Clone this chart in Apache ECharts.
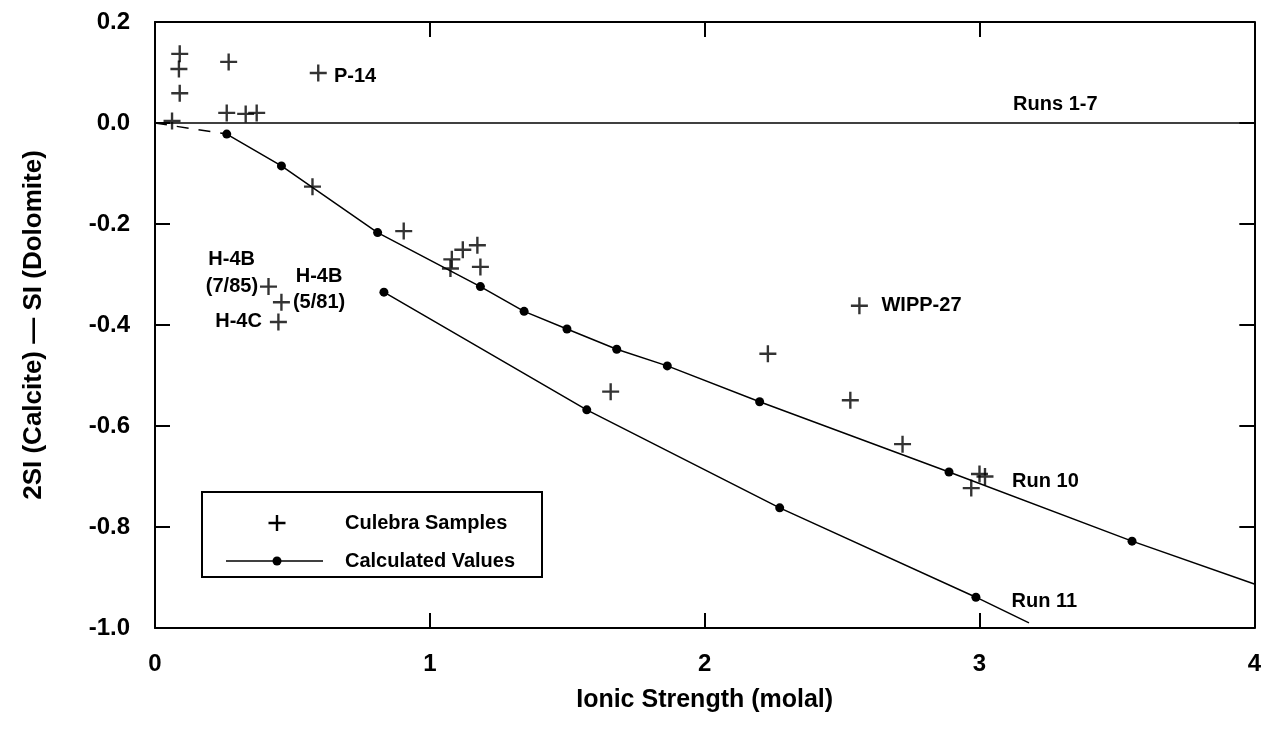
<!DOCTYPE html>
<html>
<head>
<meta charset="utf-8">
<script src="https://cdn.jsdelivr.net/npm/echarts@6/dist/echarts.min.js"></script>
<style>
html,body{margin:0;padding:0;background:#fff;}
#chart{width:1264px;height:740px;}
</style>
</head>
<body>
<div id="chart"></div>
<script>
// ---- data ----
var xTicks = [0, 1, 2, 3, 4];
var yTicks = [0.2, 0.0, -0.2, -0.4, -0.6, -0.8, -1.0];

var culebraSamples = [
  [0.09, 0.137], [0.087, 0.107], [0.09, 0.059], [0.062, 0.004],
  [0.268, 0.121], [0.594, 0.099],
  [0.261, 0.020], [0.330, 0.018], [0.370, 0.020],
  [0.573, -0.126], [0.905, -0.214],
  [1.080, -0.270], [1.075, -0.288], [1.120, -0.251], [1.173, -0.242], [1.184, -0.285],
  [0.413, -0.324], [0.460, -0.355], [0.449, -0.394],
  [1.658, -0.532], [2.230, -0.457], [2.530, -0.549], [2.563, -0.362],
  [2.720, -0.636], [3.000, -0.695], [3.020, -0.700], [2.970, -0.723]
];

var run10Dashed = [[0.0, 0.0], [0.261, -0.022]];
var run10 = [
  [0.261, -0.022], [0.460, -0.085], [0.810, -0.217], [1.184, -0.324],
  [1.343, -0.373], [1.499, -0.408], [1.680, -0.448], [1.864, -0.481],
  [2.200, -0.552], [2.889, -0.691], [3.555, -0.828]
];
var run10End = [[3.555, -0.828], [4.0, -0.913]];

var run11 = [[0.833, -0.335], [1.571, -0.568], [2.273, -0.762], [2.987, -0.939]];
var run11End = [[2.987, -0.939], [3.18, -0.990]];

var runs1to7 = [[0, 0], [4, 0]];

var annotations = [
  {text: 'P-14', x: 0.728, y: 0.093},
  {text: 'Runs 1-7', x: 3.276, y: 0.036},
  {text: 'H-4B', x: 0.279, y: -0.271},
  {text: '(7/85)', x: 0.280, y: -0.323},
  {text: 'H-4B', x: 0.597, y: -0.303},
  {text: '(5/81)', x: 0.597, y: -0.356},
  {text: 'H-4C', x: 0.304, y: -0.394},
  {text: 'WIPP-27', x: 2.789, y: -0.362},
  {text: 'Run 10', x: 3.240, y: -0.709},
  {text: 'Run 11', x: 3.236, y: -0.948}
];

var legendLabels = ['Culebra Samples', 'Calculated Values'];

// ---- chart ----
var FONT = '"Liberation Sans", Arial, Helvetica, sans-serif';
var PLUS = 'path://M8.6,0H11.4V8.6H20V11.4H11.4V20H8.6V11.4H0V8.6H8.6Z';

var chart = echarts.init(document.getElementById('chart'), null, {renderer: 'canvas'});

function axisCommon() {
  return {
    axisLine: {show: true, onZero: false, lineStyle: {color: '#000', width: 2}},
    axisTick: {show: true, inside: true, length: 15, lineStyle: {color: '#000', width: 2}},
    splitLine: {show: false}
  };
}

var option = {
  backgroundColor: '#fff',
  animation: false,
  grid: {left: 155, top: 22, right: 4, bottom: 112, containLabel: false},
  xAxis: [
    Object.assign(axisCommon(), {
      type: 'value', min: 0, max: 4, interval: 1, position: 'bottom',
      name: 'Ionic Strength (molal)', nameLocation: 'middle', nameGap: 60,
      nameTextStyle: {fontFamily: FONT, fontWeight: 'bold', fontSize: 25, color: '#000'},
      axisLabel: {margin: 24, fontFamily: FONT, fontWeight: 'bold', fontSize: 24, color: '#000',
        formatter: function (v) { return xTicks.indexOf(v) >= 0 ? String(v) : ''; }}
    }),
    Object.assign(axisCommon(), {
      type: 'value', min: 0, max: 4, interval: 1, position: 'top', axisLabel: {show: false}
    })
  ],
  yAxis: [
    Object.assign(axisCommon(), {
      type: 'value', min: -1.0, max: 0.2, interval: 0.2, position: 'left',
      name: '2SI (Calcite) \u2014 SI (Dolomite)', nameLocation: 'middle', nameGap: 108,
      nameTextStyle: {fontFamily: FONT, fontWeight: 'bold', fontSize: 26, color: '#000'},
      axisLabel: {margin: 25, fontFamily: FONT, fontWeight: 'bold', fontSize: 24, color: '#000',
        formatter: function (v) { return v.toFixed(1); }}
    }),
    Object.assign(axisCommon(), {
      type: 'value', min: -1.0, max: 0.2, interval: 0.2, position: 'right', axisLabel: {show: false}
    })
  ],
  series: [
    {type: 'line', name: 'Runs 1-7', data: runs1to7, showSymbol: false, symbol: 'none',
      lineStyle: {color: '#000', width: 1.5}, z: 2},
    {type: 'line', name: 'run10dash', data: run10Dashed, symbol: 'none',
      lineStyle: {color: '#000', width: 1.5, type: [12, 10]}, z: 3},
    {type: 'line', name: 'Calculated Values', data: run10, symbol: 'circle', symbolSize: 9,
      itemStyle: {color: '#000'}, lineStyle: {color: '#000', width: 1.5}, z: 4},
    {type: 'line', name: 'run10end', data: run10End, symbol: 'none',
      lineStyle: {color: '#000', width: 1.5}, z: 3},
    {type: 'line', name: 'run11', data: run11, symbol: 'circle', symbolSize: 9,
      itemStyle: {color: '#000'}, lineStyle: {color: '#000', width: 1.5}, z: 4},
    {type: 'line', name: 'run11end', data: run11End, symbol: 'none',
      lineStyle: {color: '#000', width: 1.5}, z: 3},
    {type: 'scatter', name: 'Culebra Samples', data: culebraSamples, symbol: PLUS, symbolSize: 17,
      itemStyle: {color: '#000'}, z: 5}
  ]
};
chart.setOption(option);

// annotation texts anchored by data coordinates, plus a boxed legend
var graphics = [];
annotations.forEach(function (a) {
  var p = chart.convertToPixel({gridIndex: 0}, [a.x, a.y]);
  graphics.push({
    type: 'text', x: p[0], y: p[1], z: 10,
    style: {text: a.text, fontFamily: FONT, fontWeight: 'bold', fontSize: 20, fill: '#000',
      textAlign: 'center', textVerticalAlign: 'middle'}
  });
});

graphics.push({type: 'rect', shape: {x: 202, y: 492, width: 340, height: 85}, z: 10,
  style: {fill: '#fff', stroke: '#000', lineWidth: 2}});
graphics.push({type: 'polygon', z: 11,
  shape: {points: [[275.8, 515], [278.2, 515], [278.2, 521.8], [285.5, 521.8], [285.5, 524.2], [278.2, 524.2],
                   [278.2, 531], [275.8, 531], [275.8, 524.2], [268.5, 524.2], [268.5, 521.8], [275.8, 521.8]]},
  style: {fill: '#000'}});
graphics.push({type: 'line', z: 11, shape: {x1: 226, y1: 561, x2: 323, y2: 561},
  style: {stroke: '#000', lineWidth: 1.5}});
graphics.push({type: 'circle', z: 12, shape: {cx: 277, cy: 561, r: 4.5}, style: {fill: '#000'}});
graphics.push({type: 'text', z: 11, x: 345, y: 523,
  style: {text: legendLabels[0], fontFamily: FONT, fontWeight: 'bold', fontSize: 20, fill: '#000',
    textVerticalAlign: 'middle'}});
graphics.push({type: 'text', z: 11, x: 345, y: 561,
  style: {text: legendLabels[1], fontFamily: FONT, fontWeight: 'bold', fontSize: 20, fill: '#000',
    textVerticalAlign: 'middle'}});

chart.setOption({graphic: graphics});
</script>
</body>
</html>
